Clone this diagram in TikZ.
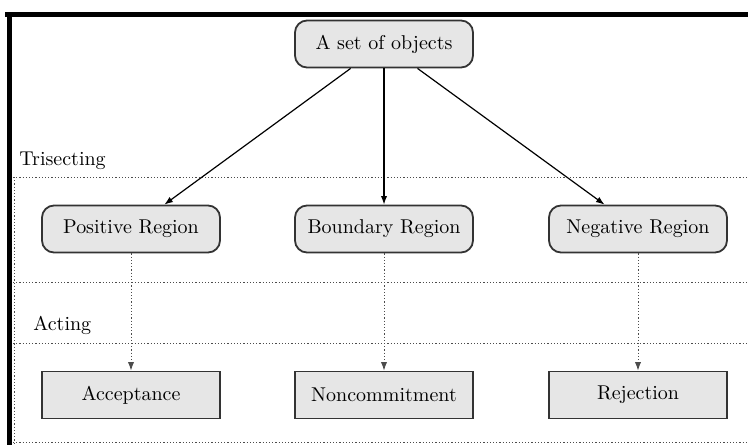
\documentclass[tikz,border=0pt]{standalone}
\usepackage{tikz}
\usetikzlibrary{arrows.meta,positioning}
\definecolor{boxfill}{HTML}{E6E6E6}
\definecolor{ink}{HTML}{333333}

\begin{document}
\begin{tikzpicture}[
 x=0.5pt,y=-0.5pt,
 region/.style={draw=ink,line width=0.9pt,rounded corners=6pt,fill=boxfill,
 minimum width=89pt,minimum height=23.5pt,align=center},
 action/.style={region,rounded corners=0pt},
 lvl/.style={anchor=base west,inner sep=0pt},
 sep/.style={draw=black!70,dash pattern=on 0.6pt off 1pt,line width=0.5pt},
 arr/.style={-{Latex[length=1.5mm,width=1.1mm]},draw=black,line width=0.6pt},
 darr/.style={-{Latex[length=1.5mm,width=1.1mm]},draw=black!70,
 dash pattern=on 0.6pt off 1pt,line width=0.5pt}]
\useasboundingbox (0,0) rectangle (748,445);
\fill[black] (5,12) rectangle (748,17);
\fill[black] (7,12) rectangle (12,445);
% layers
\draw[sep] (13,177)--(748,177);
\draw[sep] (13,282)--(748,282);
\draw[sep] (13,343)--(748,343);
\draw[sep] (13,442)--(748,442);
\draw[sep] (14,177)--(14,445);
\node[lvl] (tri) at (19,165) {Trisecting};
\node[lvl] (act) at (33,330) {Acting};
% nodes
\node[region] (set) at (384,44) {A set of objects};
\node[region] (pos) at (131,229) {Positive Region};
\node[region] (bnd) at (384,229) {Boundary Region};
\node[region] (neg) at (638,229) {Negative Region};
\node[action] (acc) at (131,395) {Acceptance};
\node[action] (non) at (384,395) {Noncommitment};
\node[action] (rej) at (638,395) {Rejection};
\draw[arr] (set)--(pos);
\draw[arr] (set)--(bnd);
\draw[arr] (set)--(neg);
\draw[darr] (pos)--(acc);
\draw[darr] (bnd)--(non);
\draw[darr] (neg)--(rej);
\end{tikzpicture}
\end{document}
